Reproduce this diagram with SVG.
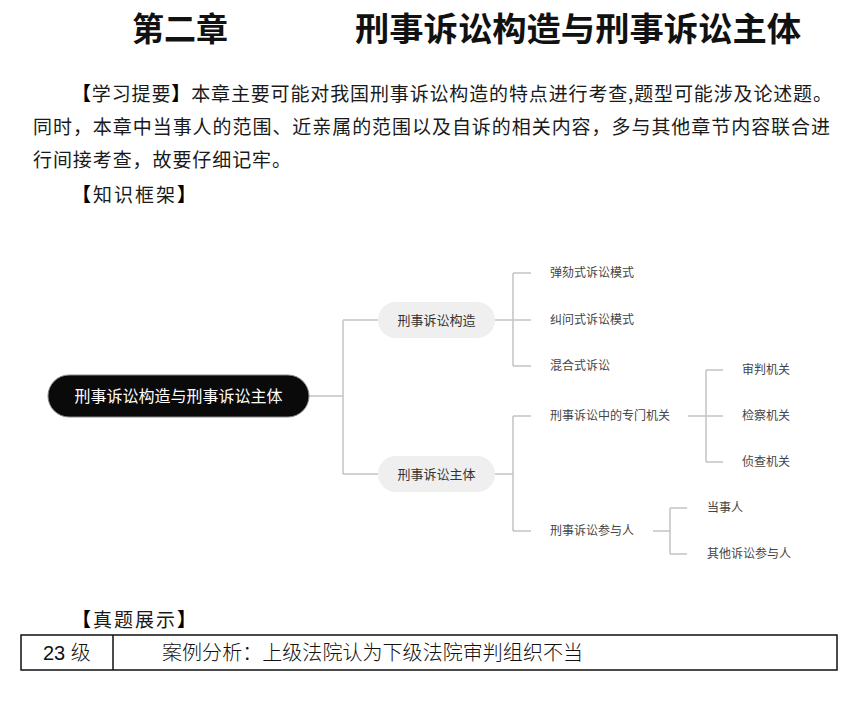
<svg xmlns="http://www.w3.org/2000/svg" width="864" height="701" viewBox="0 0 864 701">
<style>
  .cjk{font-family:"Noto Sans CJK SC","Liberation Sans",sans-serif;}
  .title{font-size:33px;font-weight:bold;fill:#111;}
  .para{font-size:19px;fill:#1a1a1a;}
  .br{font-weight:900;fill:#000;}
  .leaf{font-size:12px;fill:#444;}
  .branch{font-size:13px;fill:#333;}
  .root{font-size:16px;fill:#fff;}
  .conn{fill:none;stroke:#c4c4c4;stroke-width:1.5;}
  .cell{font-size:20px;fill:#111;font-weight:300;}
</style>
<rect width="864" height="701" fill="#fff"/>
<g id="heading">
  <text class="cjk title" x="132" y="41" textLength="96" lengthAdjust="spacingAndGlyphs">第二章</text>
  <text class="cjk title" x="355" y="41" textLength="446" lengthAdjust="spacingAndGlyphs">刑事诉讼构造与刑事诉讼主体</text>
</g>
<g id="summary">
  <text class="cjk para" x="72" y="101" textLength="760" lengthAdjust="spacing"><tspan class="br">【</tspan>学习提要<tspan class="br">】</tspan>本章主要可能对我国刑事诉讼构造的特点进行考查,题型可能涉及论述题。</text>
  <text class="cjk para" x="33" y="134" textLength="797" lengthAdjust="spacing">同时，本章中当事人的范围、近亲属的范围以及自诉的相关内容，多与其他章节内容联合进</text>
  <text class="cjk para" x="33" y="167" textLength="258" lengthAdjust="spacing">行间接考查，故要仔细记牢。</text>
  <text class="cjk para" x="72" y="202" textLength="124" lengthAdjust="spacing"><tspan class="br">【</tspan>知识框架<tspan class="br">】</tspan></text>
</g>
<g id="connectors">
  <path class="conn" d="M309 396 H343 M343 320 V474 M343 320 H378 M343 474 H378"/>
  <path class="conn" d="M495 320 H531 M513 273 V366 M513 273 H531 M513 366 H531"/>
  <path class="conn" d="M495 474 H513 M513 416 V531 M513 416 H531 M513 531 H531"/>
  <path class="conn" d="M688 416 H723 M706 370 V462 M706 370 H723 M706 462 H723"/>
  <path class="conn" d="M653 531 H670 M670 508 V554 M670 508 H687 M670 554 H687"/>
</g>
<g id="root">
  <rect x="48" y="375" width="261" height="42" rx="21" fill="#0a0a0a" stroke="#888" stroke-width="1"/>
  <text class="cjk root" x="178.5" y="402" text-anchor="middle">刑事诉讼构造与刑事诉讼主体</text>
</g>
<g id="n-structure">
  <rect x="378" y="302" width="117" height="36" rx="18" fill="#efefef"/>
  <text class="cjk branch" x="436.5" y="325" text-anchor="middle">刑事诉讼构造</text>
</g>
<g id="n-subject">
  <rect x="378" y="456" width="117" height="36" rx="18" fill="#efefef"/>
  <text class="cjk branch" x="436.5" y="479" text-anchor="middle">刑事诉讼主体</text>
</g>
<g id="n-adversarial"><text class="cjk leaf" x="550" y="277">弹劾式诉讼模式</text></g>
<g id="n-inquisitorial"><text class="cjk leaf" x="550" y="324">纠问式诉讼模式</text></g>
<g id="n-mixed"><text class="cjk leaf" x="550" y="370">混合式诉讼</text></g>
<g id="n-organs"><text class="cjk leaf" x="550" y="420">刑事诉讼中的专门机关</text></g>
<g id="n-participants"><text class="cjk leaf" x="550" y="535">刑事诉讼参与人</text></g>
<g id="n-court"><text class="cjk leaf" x="742" y="374">审判机关</text></g>
<g id="n-procuratorate"><text class="cjk leaf" x="742" y="420">检察机关</text></g>
<g id="n-investigation"><text class="cjk leaf" x="742" y="466">侦查机关</text></g>
<g id="n-party"><text class="cjk leaf" x="707" y="512">当事人</text></g>
<g id="n-others"><text class="cjk leaf" x="707" y="558">其他诉讼参与人</text></g>
<g id="exam">
  <text class="cjk para" x="72" y="627" textLength="124" lengthAdjust="spacing"><tspan class="br">【</tspan>真题展示<tspan class="br">】</tspan></text>
  <rect x="21" y="635" width="816" height="35" fill="none" stroke="#111" stroke-width="1.5"/>
  <line x1="113" y1="635" x2="113" y2="670" stroke="#111" stroke-width="1.5"/>
  <text class="cjk cell" x="43" y="660"><tspan font-family="Liberation Sans">23 </tspan>级</text>
  <text class="cjk cell" x="162" y="660" textLength="421" lengthAdjust="spacing">案例分析：上级法院认为下级法院审判组织不当</text>
</g>
</svg>
